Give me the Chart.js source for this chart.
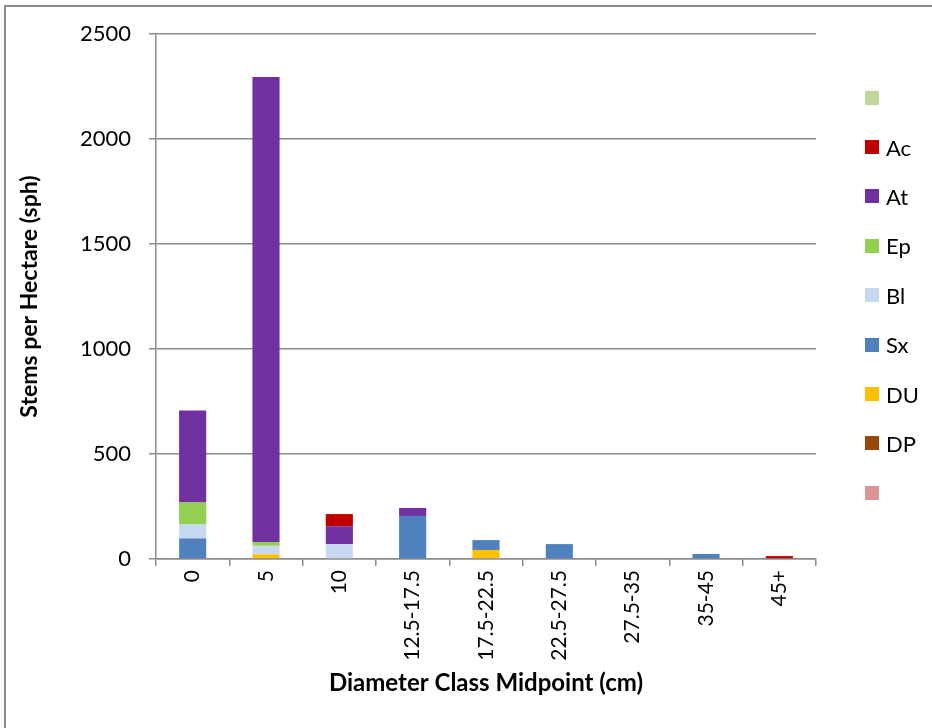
<!DOCTYPE html>
<html>
<head>
<meta charset="utf-8">
<script src="https://cdn.jsdelivr.net/npm/chart.js@4/dist/chart.umd.min.js"></script>
<style>
  html, body { margin: 0; padding: 0; background: #fff; }
  #wrap { position: relative; width: 932px; height: 728px; overflow: hidden; }
  #frame { position: absolute; left: 4px; top: 5px; width: 940px; height: 740px;
           border-left: 2px solid #8c8c8c; border-top: 2px solid #8c8c8c; }
  #myChart { position: absolute; left: 0; top: 0; }
  #legend { position: absolute; left: 865px; top: 73px; font-family: Lato, sans-serif;
            font-size: 22px; color: #000; }
  #legend .item { height: 49.4px; display: flex; align-items: center; }
  #legend .box { width: 14px; height: 14px; margin-right: 7px; }
</style>
</head>
<body>
<div id="wrap">
  <div id="frame"></div>
  <canvas id="myChart" width="932" height="728"></canvas>
  <div id="legend"></div>
</div>
<script>
// categorias del eje x
const categories = ["0", "5", "10", "12.5-17.5", "17.5-22.5", "22.5-27.5", "27.5-35", "35-45", "45+"];

// series (de abajo hacia arriba en la pila)
const blankLow = [0, 0, 0, 0, 0, 0, 0, 0, 0];
const DP = [0, 0, 0, 0, 0, 0, 0, 0, 0];
const DU = [0, 22, 0, 0, 43, 0, 0, 0, 0];
const Sx = [98, 0, 0, 205, 47, 71, 0, 24, 0];
const Bl = [66, 41, 70, 0, 0, 0, 0, 0, 0];
const Ep = [105, 18, 0, 0, 0, 0, 0, 0, 0];
const At = [438, 2214, 86, 38, 0, 0, 0, 0, 0];
const Ac = [0, 0, 58, 0, 0, 0, 0, 0, 14];
const blankHigh = [0, 0, 0, 0, 0, 0, 0, 0, 0];

const yTicks = [0, 500, 1000, 1500, 2000, 2500];

const series = [
    { label: "", data: blankLow, color: "#D99694" },
    { label: "DP", data: DP, color: "#984807" },
    { label: "DU", data: DU, color: "#FFC000" },
    { label: "Sx", data: Sx, color: "#4F81BD" },
    { label: "Bl", data: Bl, color: "#C6D9F1" },
    { label: "Ep", data: Ep, color: "#92D050" },
    { label: "At", data: At, color: "#7030A0" },
    { label: "Ac", data: Ac, color: "#C00000" },
    { label: "", data: blankHigh, color: "#C3D69B" }
];

const gridColor = "#8c8c8c";
const ctx = document.getElementById("myChart").getContext("2d");

new Chart(ctx, {
    type: "bar",
    data: {
        labels: categories,
        datasets: series.map(s => ({
            label: s.label,
            data: s.data,
            backgroundColor: s.color,
            borderWidth: 0,
            barPercentage: 0.37,
            categoryPercentage: 1
        }))
    },
    options: {
        responsive: false,
        animation: false,
        layout: { padding: { left: 0, top: 34, right: 116, bottom: 30.6 } },
        plugins: {
            legend: { display: false },
            tooltip: { enabled: false }
        },
        scales: {
            x: {
                stacked: true,
                offset: true,
                grid: { offset: true, drawOnChartArea: false, drawTicks: true, tickLength: 7, color: gridColor, lineWidth: 1.5 },
                border: { color: gridColor, width: 1.5 },
                ticks: {
                    minRotation: 90, maxRotation: 90, padding: 4,
                    color: "#000", font: { family: "Lato", size: 21 }
                },
                title: {
                    display: true, text: "Diameter Class Midpoint (cm)", color: "#000",
                    font: { family: "Lato", size: 24, weight: "bold" }, padding: { top: 0, bottom: 0 }
                },
                afterFit: scale => { scale.height = 138.4; }
            },
            y: {
                stacked: true,
                min: 0, max: 2500,
                afterBuildTicks: scale => { scale.ticks = yTicks.map(v => ({ value: v })); },
                grid: { color: gridColor, lineWidth: 1.5, tickLength: 7 },
                border: { color: gridColor, width: 1.5 },
                ticks: {
                    padding: 18, color: "#000", font: { family: "Lato", size: 22 },
                    callback: v => String(v)
                },
                title: {
                    display: true, text: "Stems per Hectare (sph)", color: "#000",
                    font: { family: "Lato", size: 23, weight: "bold" }, padding: { top: 16, bottom: 0 }
                },
                afterFit: scale => { scale.width = 156; }
            }
        }
    }
});

// leyenda (orden inverso, como en el original)
const legendEl = document.getElementById("legend");
series.slice().reverse().forEach(s => {
    const item = document.createElement("div");
    item.className = "item";
    item.innerHTML = `<span class="box" style="background:${s.color}"></span><span>${s.label}</span>`;
    legendEl.appendChild(item);
});
</script>
</body>
</html>
